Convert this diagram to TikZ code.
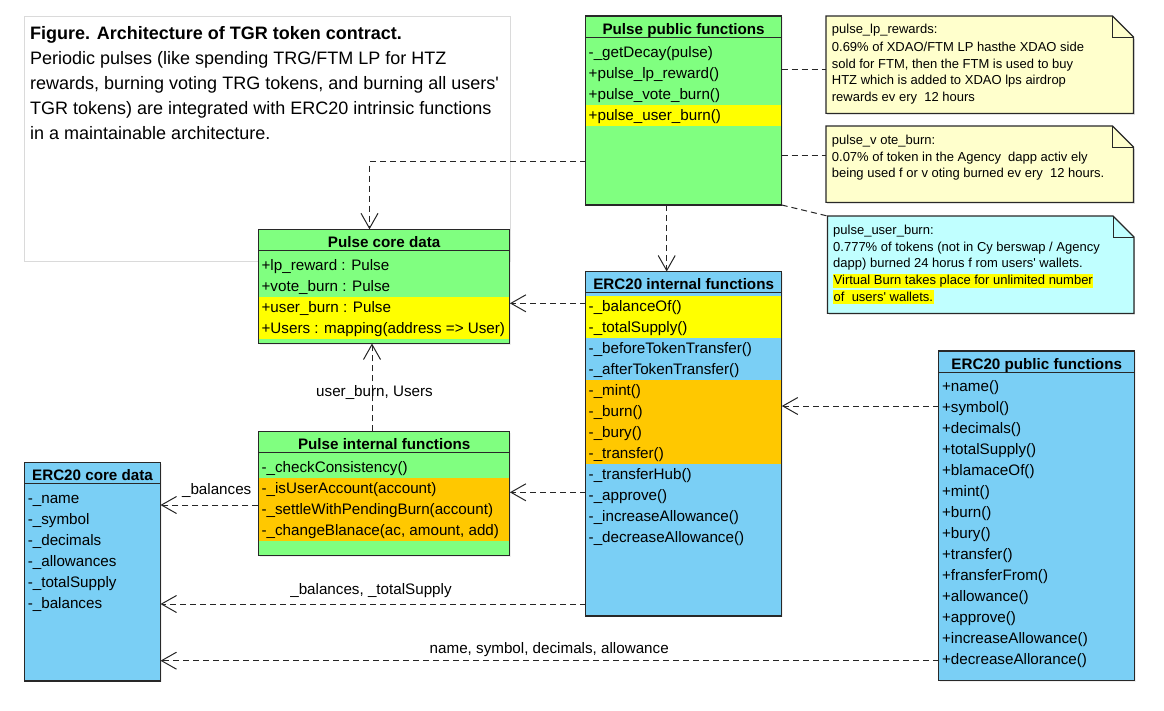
\documentclass[tikz,border=0pt]{standalone}
\usepackage{fontspec}
\setmainfont{Liberation Sans}[Ligatures=TeXOff]
\usetikzlibrary{arrows.meta,shadows}

\definecolor{gfill}{RGB}{128,255,128}
\definecolor{bfill}{RGB}{122,207,245}
\definecolor{yfill}{RGB}{255,255,0}
\definecolor{ofill}{RGB}{255,200,0}
\definecolor{nyel}{RGB}{255,255,204}
\definecolor{ncyan}{RGB}{192,255,255}
\definecolor{edgec}{RGB}{40,40,40}
\definecolor{framec}{RGB}{218,218,218}

\tikzset{
  classbox/.style={draw=edgec, line width=1.1pt, inner sep=0pt, outer sep=0pt, anchor=north west,
    drop shadow={shadow xshift=1.2pt, shadow yshift=-1.2pt, fill=black!12}},
  edgeline/.style={draw=edgec, line width=1.1pt},
  headtext/.style={anchor=base, inner sep=0pt, font=\fontsize{15.2}{18}\selectfont\bfseries},
  rowtext/.style={anchor=base west, inner sep=0pt, font=\fontsize{15.2}{18}\selectfont},
  titletext/.style={anchor=base west, inner sep=0pt, font=\fontsize{18}{22}\selectfont},
  dep/.style={draw=black!85, line width=1pt, dash pattern=on 6pt off 4pt,
    -{Straight Barb[length=15pt,width=17pt,line width=1pt]}},
  notelink/.style={draw=black!85, line width=1pt, dash pattern=on 6pt off 4pt},
  lbl/.style={inner sep=0pt, font=\fontsize{15.2}{18}\selectfont},
  notetext/.style={anchor=base west, inner sep=0pt, font=\fontsize{13}{15}\selectfont},
  notebox/.style={anchor=north west, inner sep=0pt, outer sep=0pt},
  hilite/.style={fill=yfill, inner xsep=0.5pt, inner ysep=0pt, text height=11pt, text depth=3pt},
}

\newcommand\umlclass[8]{% name, x1, y1, x2, y2, header bottom, fill, title
  \node[classbox, fill=#7, minimum width={#4pt-#2pt}, minimum height={#5pt-#3pt}] (#1) at (#2,#3) {};
  \draw[edgeline] (#2,#6) -- (#4,#6);
  \node[headtext] (#1-h) at ({(#2+#4)/2},{#6-3.3}) {#8};
}
\newcommand\umlrow[6]{% name, x1, x2, y centre, fill, text
  \fill[#5] ({#2+0.7},{#4-10.5}) rectangle ({#3-0.7},{#4+10.5});
  \node[rowtext] (#1) at ({#2+3},{#4+5}) {#6};
}
\newcommand\umlnote[6]{% name, x1, y1, x2, y2, fill
  \node[notebox, minimum width={#4pt-#2pt}, minimum height={#5pt-#3pt}] (#1) at (#2,#3) {};
  \fill[black!12] ([shift={(1.2pt,-1.2pt)}]#1.south west) rectangle ([shift={(1.2pt,-23pt)}]#1.north east);
  \filldraw[fill=#6, draw=edgec, line width=1.1pt, line join=miter]
    (#1.north west) -- ([xshift=-21pt]#1.north east) -- ([yshift=-21pt]#1.north east)
    -- (#1.south east) -- (#1.south west) -- cycle;
  \draw[draw=edgec, line width=1pt] ([xshift=-21pt]#1.north east) |- ([yshift=-21pt]#1.north east);
}

\begin{document}
\begin{tikzpicture}[x=1pt,y=-1pt]
\useasboundingbox (0,0) rectangle (1164,710);
\fill[white] (0,0) rectangle (1164,710);

% caption frame
\node[draw=framec, line width=0.8pt, anchor=north west, inner sep=0pt,
  minimum width=485.7pt, minimum height=245pt] (frame) at (24.3,16) {};
\node[titletext, font=\fontsize{18}{22}\selectfont\bfseries] (t1) at (30,39) {Figure. Architecture of TGR token contract.};
\node[titletext] (t2) at (30,64.3) {Periodic pulses (like spending TRG/FTM LP for HTZ};
\node[titletext] (t3) at (30,89.3) {rewards, burning voting TRG tokens, and burning all users'};
\node[titletext] (t4) at (30,114.3) {TGR tokens) are integrated with ERC20 intrinsic functions};
\node[titletext] (t5) at (30,139.3) {in a maintainable architecture.};

% Pulse public functions
\umlclass{ppf}{585.5}{16}{781.7}{205}{37.5}{gfill}{Pulse public functions}
\umlrow{ppf1}{585.5}{781.7}{52.3}{gfill}{-\_getDecay(pulse)}
\umlrow{ppf2}{585.5}{781.7}{73.3}{gfill}{+pulse\_lp\_reward()}
\umlrow{ppf3}{585.5}{781.7}{94.3}{gfill}{+pulse\_vote\_burn()}
\umlrow{ppf4}{585.5}{781.7}{115.3}{yfill}{+pulse\_user\_burn()}

% Pulse core data
\umlclass{pcd}{258.4}{229.3}{509.9}{343.5}{250.5}{gfill}{Pulse core data}
\umlrow{pcd1}{258.4}{509.9}{265}{gfill}{+lp\_reward : Pulse}
\umlrow{pcd2}{258.4}{509.9}{286}{gfill}{+vote\_burn : Pulse}
\umlrow{pcd3}{258.4}{509.9}{307}{yfill}{+user\_burn : Pulse}
\umlrow{pcd4}{258.4}{509.9}{328}{yfill}{+Users : mapping(address => User)}

% ERC20 internal functions
\umlclass{ei}{585.5}{271.5}{781.8}{616}{292.5}{bfill}{ERC20 internal functions}
\umlrow{ei1}{585.5}{781.8}{306.5}{yfill}{-\_balanceOf()}
\umlrow{ei2}{585.5}{781.8}{327.5}{yfill}{-\_totalSupply()}
\umlrow{ei3}{585.5}{781.8}{348.5}{bfill}{-\_beforeTokenTransfer()}
\umlrow{ei4}{585.5}{781.8}{369.5}{bfill}{-\_afterTokenTransfer()}
\umlrow{ei5}{585.5}{781.8}{390.5}{ofill}{-\_mint()}
\umlrow{ei6}{585.5}{781.8}{411.5}{ofill}{-\_burn()}
\umlrow{ei7}{585.5}{781.8}{432.5}{ofill}{-\_bury()}
\umlrow{ei8}{585.5}{781.8}{453.5}{ofill}{-\_transfer()}
\umlrow{ei9}{585.5}{781.8}{474.5}{bfill}{-\_transferHub()}
\umlrow{ei10}{585.5}{781.8}{495.5}{bfill}{-\_approve()}
\umlrow{ei11}{585.5}{781.8}{516.5}{bfill}{-\_increaseAllowance()}
\umlrow{ei12}{585.5}{781.8}{537.5}{bfill}{-\_decreaseAllowance()}

% Pulse internal functions
\umlclass{pif}{258.4}{431.3}{509.9}{555.3}{452.5}{gfill}{Pulse internal functions}
\umlrow{pif1}{258.4}{509.9}{467.3}{gfill}{-\_checkConsistency()}
\umlrow{pif2}{258.4}{509.9}{488.3}{ofill}{-\_isUserAccount(account)}
\umlrow{pif3}{258.4}{509.9}{509.3}{ofill}{-\_settleWithPendingBurn(account)}
\umlrow{pif4}{258.4}{509.9}{530.3}{ofill}{-\_changeBlanace(ac, amount, add)}

% ERC20 core data
\umlclass{ecd}{24.6}{462.5}{160.5}{681}{483.5}{bfill}{ERC20 core data}
\umlrow{ecd1}{24.6}{160.5}{498.3}{bfill}{-\_name}
\umlrow{ecd2}{24.6}{160.5}{519.3}{bfill}{-\_symbol}
\umlrow{ecd3}{24.6}{160.5}{540.3}{bfill}{-\_decimals}
\umlrow{ecd4}{24.6}{160.5}{561.3}{bfill}{-\_allowances}
\umlrow{ecd5}{24.6}{160.5}{582.3}{bfill}{-\_totalSupply}
\umlrow{ecd6}{24.6}{160.5}{603.3}{bfill}{-\_balances}

% ERC20 public functions
\umlclass{epf}{938.9}{351}{1134.5}{680.5}{372.5}{bfill}{ERC20 public functions}
\umlrow{epf1}{938.9}{1134.5}{386.7}{bfill}{+name()}
\umlrow{epf2}{938.9}{1134.5}{407.7}{bfill}{+symbol()}
\umlrow{epf3}{938.9}{1134.5}{428.7}{bfill}{+decimals()}
\umlrow{epf4}{938.9}{1134.5}{449.7}{bfill}{+totalSupply()}
\umlrow{epf5}{938.9}{1134.5}{470.7}{bfill}{+blamaceOf()}
\umlrow{epf6}{938.9}{1134.5}{491.7}{bfill}{+mint()}
\umlrow{epf7}{938.9}{1134.5}{512.7}{bfill}{+burn()}
\umlrow{epf8}{938.9}{1134.5}{533.7}{bfill}{+bury()}
\umlrow{epf9}{938.9}{1134.5}{554.7}{bfill}{+transfer()}
\umlrow{epf10}{938.9}{1134.5}{575.7}{bfill}{+fransferFrom()}
\umlrow{epf11}{938.9}{1134.5}{596.7}{bfill}{+allowance()}
\umlrow{epf12}{938.9}{1134.5}{617.7}{bfill}{+approve()}
\umlrow{epf13}{938.9}{1134.5}{638.7}{bfill}{+increaseAllowance()}
\umlrow{epf14}{938.9}{1134.5}{659.7}{bfill}{+decreaseAllorance()}

% notes
\umlnote{n1}{826}{16}{1133.5}{113.3}{nyel}
\node[notetext] (n1a) at (831.7,33.9) {pulse\_lp\_rewards:};
\node[notetext] (n1b) at (831.7,51.3) {0.69\% of XDAO/FTM LP hasthe XDAO side};
\node[notetext] (n1c) at (831.7,68.9) {sold for FTM, then the FTM is used to buy};
\node[notetext] (n1d) at (831.7,84.6) {HTZ which is added to XDAO lps airdrop};
\node[notetext] (n1e) at (831.7,101.3) {rewards ev ery\ \ 12 hours};

\umlnote{n2}{826}{126}{1133.5}{202.3}{nyel}
\node[notetext] (n2a) at (831.7,144.6) {pulse\_v ote\_burn:};
\node[notetext] (n2b) at (831.7,161.3) {0.07\% of token in the Agency\ \ dapp activ ely};
\node[notetext] (n2c) at (831.7,177.9) {being used f or v oting burned ev ery\ \ 12 hours.};

\umlnote{n3}{827.5}{216}{1134}{313.3}{ncyan}
\node[notetext] (n3a) at (833,234.6) {pulse\_user\_burn:};
\node[notetext] (n3b) at (833,251.3) {0.777\% of tokens (not in Cy berswap / Agency};
\node[notetext] (n3c) at (833,267.9) {dapp) burned 24 horus f rom users' wallets.};
\node[notetext, hilite] (n3d) at (833,284.6) {Virtual Burn takes place for unlimited number\ };
\node[notetext, hilite] (n3e) at (833,301.3) {of\ \ users' wallets.};

% connector anchors
\coordinate (c1) at (369.5,161.7);
\coordinate (c2) at (666.7,0);
\coordinate (c3) at (0,69.3);
\coordinate (c4) at (0,155);
\coordinate (c5) at (0,303.3);
\coordinate (c6) at (372,0);
\coordinate (c7) at (0,492.3);
\coordinate (c8) at (0,505);
\coordinate (c9) at (0,604);
\coordinate (c10) at (0,406);
\coordinate (c11) at (0,660.7);

% connectors
\draw[dep] (ppf.west |- c1) -| (pcd.north -| c1);
\draw[dep] (ppf.south -| c2) -- (ei.north -| c2);
\draw[notelink] (ppf.east |- c3) -- (n1.west |- c3);
\draw[notelink] (ppf.east |- c4) -- (n2.west |- c4);
\draw[notelink] (ppf.south east) -- (n3.north west);
\draw[dep] (ei.west |- c5) -- (pcd.east |- c5);
\draw[dep] (pif.north -| c6) -- (pcd.south -| c6);
\draw[dep] (ei.west |- c7) -- (pif.east |- c7);
\draw[dep] (pif.west |- c8) -- (ecd.east |- c8);
\draw[dep] (ei.west |- c9) -- (ecd.east |- c9);
\draw[dep] (epf.west |- c10) -- (ei.east |- c10);
\draw[dep] (epf.west |- c11) -- (ecd.east |- c11);

% connector labels
\node[lbl, anchor=base] (l1) at (374.5,396.7) {user\_burn, Users};
\node[lbl, anchor=base] (l2) at (216.7,494) {\_balances};
\node[lbl, anchor=base] (l3) at (371,594) {\_balances, \_totalSupply};
\node[lbl, anchor=base west] (l4) at (429.5,653.3) {name, symbol, decimals, allowance};
\end{tikzpicture}
\end{document}
